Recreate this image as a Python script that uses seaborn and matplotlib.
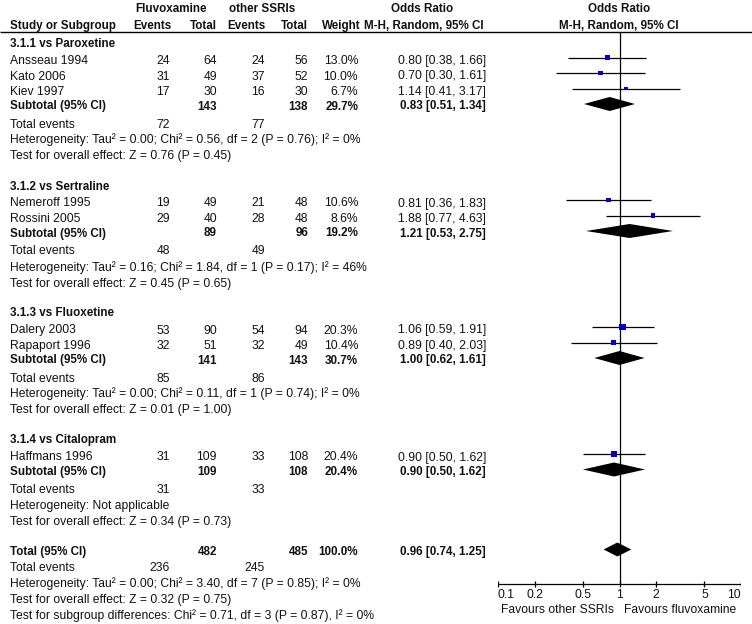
import matplotlib
matplotlib.use("Agg")
import numpy as np
import pandas as pd
import matplotlib.pyplot as plt
import seaborn as sns

# ---- data ----
group_titles = ["3.1.1 vs Paroxetine", "3.1.2 vs Sertraline",
                "3.1.3 vs Fluoxetine", "3.1.4 vs Citalopram"]

study_names = ["Ansseau 1994", "Kato 2006", "Kiev 1997",
               "Nemeroff 1995", "Rossini 2005",
               "Dalery 2003", "Rapaport 1996",
               "Haffmans 1996"]
study_group = [0, 0, 0, 1, 1, 2, 2, 3]
fluv_events = [24, 31, 17, 19, 29, 53, 32, 31]
fluv_total = [64, 49, 30, 49, 40, 90, 51, 109]
ssri_events = [24, 37, 16, 21, 28, 54, 32, 33]
ssri_total = [56, 52, 30, 48, 48, 94, 49, 108]
weights = [13.0, 10.0, 6.7, 10.6, 8.6, 20.3, 10.4, 20.4]
or_est = [0.80, 0.70, 1.14, 0.81, 1.88, 1.06, 0.89, 0.90]
or_lo = [0.38, 0.30, 0.41, 0.36, 0.77, 0.59, 0.40, 0.50]
or_hi = [1.66, 1.61, 3.17, 1.83, 4.63, 1.91, 2.03, 1.62]

sub_fluv_total = [143, 89, 141, 109]
sub_ssri_total = [138, 96, 143, 108]
sub_weight = [29.7, 19.2, 30.7, 20.4]
sub_est = [0.83, 1.21, 1.00, 0.90]
sub_lo = [0.51, 0.53, 0.62, 0.50]
sub_hi = [1.34, 2.75, 1.61, 1.62]
sub_fluv_events = [72, 48, 85, 31]
sub_ssri_events = [77, 49, 86, 33]
sub_het = ["Heterogeneity: Tau² = 0.00; Chi² = 0.56, df = 2 (P = 0.76); I² = 0%",
           "Heterogeneity: Tau² = 0.16; Chi² = 1.84, df = 1 (P = 0.17); I² = 46%",
           "Heterogeneity: Tau² = 0.00; Chi² = 0.11, df = 1 (P = 0.74); I² = 0%",
           "Heterogeneity: Not applicable"]
sub_z = ["Test for overall effect: Z = 0.76 (P = 0.45)",
         "Test for overall effect: Z = 0.45 (P = 0.65)",
         "Test for overall effect: Z = 0.01 (P = 1.00)",
         "Test for overall effect: Z = 0.34 (P = 0.73)"]

tot_fluv_total, tot_ssri_total, tot_weight = 482, 485, 100.0
tot_est, tot_lo, tot_hi = 0.96, 0.74, 1.25
tot_fluv_events, tot_ssri_events = 236, 245
tot_het = "Heterogeneity: Tau² = 0.00; Chi² = 3.40, df = 7 (P = 0.85); I² = 0%"
tot_z = "Test for overall effect: Z = 0.32 (P = 0.75)"
tot_sub = "Test for subgroup differences: Chi² = 0.71, df = 3 (P = 0.87), I² = 0%"

axis_ticks = [0.1, 0.2, 0.5, 1, 2, 5, 10]
axis_labels = ["0.1", "0.2", "0.5", "1", "2", "5", "10"]

# ---- style ----
sns.set_theme(style="white")
plt.rcParams["font.family"] = ["Liberation Sans", "DejaVu Sans"]
FS = 8.7       # regular text
FS_B = 8.4     # bold text (reference bold face runs narrower)
TXT_C = "#111111"
BLUE = "#0000c8"

fig = plt.figure(figsize=(7.52, 6.24), dpi=100)
bg = fig.add_axes([0, 0, 1, 1])
bg.set_xlim(0, 752)
bg.set_ylim(624, 0)
bg.axis("off")

fa = fig.add_axes([498 / 752, 0, 243 / 752, 1])
fa.set_xscale("log")

# column right edges (pixels)
X_NAME, X_FE, X_FT, X_SE, X_ST, X_W, X_OR = 10, 170, 217, 265, 308, 358, 486


def txt(x, y, s, ha="left", bold=False):
    bg.text(x, y + 4, s, ha=ha, va="baseline", fontsize=FS_B if bold else FS,
            fontweight="bold" if bold else "normal", color=TXT_C)


def or_str(e, l, h):
    return f"{e:.2f} [{l:.2f}, {h:.2f}]"


# header
txt(171, 8, "Fluvoxamine", ha="center", bold=True)
txt(262, 8, "other SSRIs", ha="center", bold=True)
txt(422, 8, "Odds Ratio", ha="center", bold=True)
txt(619, 8, "Odds Ratio", ha="center", bold=True)
txt(X_NAME, 25, "Study or Subgroup", bold=True)
txt(172, 25, "Events", ha="right", bold=True)
txt(X_FT, 25, "Total", ha="right", bold=True)
txt(X_SE, 25, "Events", ha="right", bold=True)
txt(X_ST, 25, "Total", ha="right", bold=True)
txt(361, 25, "Weight", ha="right", bold=True)
txt(424, 25, "M-H, Random, 95% CI", ha="center", bold=True)
txt(619, 25, "M-H, Random, 95% CI", ha="center", bold=True)
bg.hlines(32, 0, 752, color="black", lw=1.0)

# layout rows
study_y = []
sub_y = []
y = 43
for g, title in enumerate(group_titles):
    txt(X_NAME, y, title, bold=True)
    idx = [i for i, sg in enumerate(study_group) if sg == g]
    y += 17
    for k, i in enumerate(idx):
        if k > 0:
            y += 15.5
        study_y.append(y)
        txt(X_NAME, y, study_names[i])
        txt(X_FE, y, str(fluv_events[i]), ha="right")
        txt(X_FT, y, str(fluv_total[i]), ha="right")
        txt(X_SE, y, str(ssri_events[i]), ha="right")
        txt(X_ST, y, str(ssri_total[i]), ha="right")
        txt(X_W, y, f"{weights[i]:.1f}%", ha="right")
        txt(X_OR, y, or_str(or_est[i], or_lo[i], or_hi[i]), ha="right")
    y += 14.5
    sub_y.append(y)
    txt(X_NAME, y, "Subtotal (95% CI)", bold=True)
    txt(X_FT, y, str(sub_fluv_total[g]), ha="right", bold=True)
    txt(X_ST, y, str(sub_ssri_total[g]), ha="right", bold=True)
    txt(X_W, y, f"{sub_weight[g]:.1f}%", ha="right", bold=True)
    txt(X_OR, y, or_str(sub_est[g], sub_lo[g], sub_hi[g]), ha="right", bold=True)
    y += 18
    txt(X_NAME, y, "Total events")
    txt(X_FE, y, str(sub_fluv_events[g]), ha="right")
    txt(X_SE, y, str(sub_ssri_events[g]), ha="right")
    y += 16
    txt(X_NAME, y, sub_het[g])
    y += 16
    txt(X_NAME, y, sub_z[g])
    y += 30

tot_y = y
txt(X_NAME, y, "Total (95% CI)", bold=True)
txt(X_FT, y, str(tot_fluv_total), ha="right", bold=True)
txt(X_ST, y, str(tot_ssri_total), ha="right", bold=True)
txt(X_W, y, f"{tot_weight:.1f}%", ha="right", bold=True)
txt(X_OR, y, or_str(tot_est, tot_lo, tot_hi), ha="right", bold=True)
y += 16
txt(X_NAME, y, "Total events")
txt(X_FE, y, str(tot_fluv_events), ha="right")
txt(X_SE, y, str(tot_ssri_events), ha="right")
y += 16
txt(X_NAME, y, tot_het)
y += 16
txt(X_NAME, y, tot_z)
y += 16
txt(X_NAME, y, tot_sub)

# ---- forest panel ----
AXIS_Y = 584
MARK_OFF = -2.5
fa.vlines(1, 32, AXIS_Y, color="black", lw=0.9)

study_df = pd.DataFrame({"est": or_est, "lo": or_lo, "hi": or_hi,
                         "w": weights, "y": np.array(study_y) + MARK_OFF})
fa.hlines(study_df["y"], study_df["lo"], study_df["hi"], color="black", lw=0.9)
sns.scatterplot(data=study_df, x="est", y="y", size="w", sizes=(0, 115),
                size_norm=(0, 100), marker="s", color=BLUE, linewidth=0,
                legend=False, ax=fa, zorder=3)

H = 7
for e, l, h, yc in zip(sub_est + [tot_est], sub_lo + [tot_lo], sub_hi + [tot_hi],
                       sub_y + [tot_y]):
    yc = yc - 1.5
    fa.fill([l, e, h, e], [yc, yc - H, yc, yc + H], color="black", lw=0, zorder=3)

# bottom axis
fa.hlines(AXIS_Y, axis_ticks[0], axis_ticks[-1], color="black", lw=0.9)
fa.vlines(axis_ticks, AXIS_Y - 3, AXIS_Y + 3, color="black", lw=0.9)
for i, (t, lab) in enumerate(zip(axis_ticks, axis_labels)):
    ha = "left" if i == 0 else ("right" if i == len(axis_ticks) - 1 else "center")
    fa.text(t, AXIS_Y + 14, lab, ha=ha, va="baseline", fontsize=FS, color=TXT_C)
txt(614, 609, "Favours other SSRIs", ha="right")
txt(624, 609, "Favours fluvoxamine", ha="left")

fa.set_xlim(0.1, 10)
fa.set_ylim(624, 0)
fa.axis("off")

fig.savefig("out.png", dpi=100)
